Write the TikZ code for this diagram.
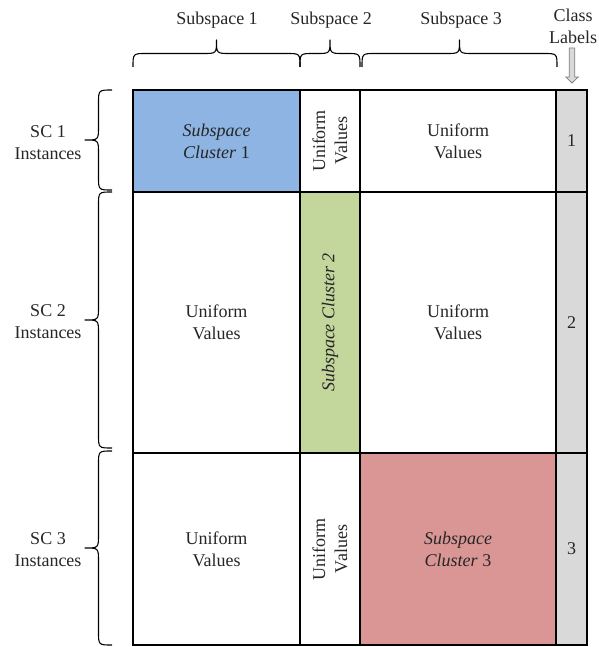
\documentclass[tikz,border=0pt]{standalone}
\usepackage{fontspec}
\setmainfont{Liberation Serif}
\definecolor{scblue}{RGB}{141,180,226}
\definecolor{scgreen}{RGB}{195,214,155}
\definecolor{scred}{RGB}{217,150,148}
\definecolor{labgray}{RGB}{217,217,217}
\tikzset{
  cell/.style={rectangle, draw, line width=1.5pt, inner sep=0pt, outer sep=0pt, align=center},
  bracestyle/.style={line width=1.1pt, line join=round}
}
% top brace: x1, x2, y of the ends
\newcommand{\topbrace}[3]{%
  \draw[bracestyle] (#1,#3) .. controls (#1,#3-13.5) .. (#1+13.5,#3-13.5)
    -- ({(#1+#2)/2-13.5},#3-13.5) .. controls ({(#1+#2)/2},#3-13.5) .. ({(#1+#2)/2},#3-27)
    .. controls ({(#1+#2)/2},#3-13.5) .. ({(#1+#2)/2+13.5},#3-13.5)
    -- (#2-13.5,#3-13.5) .. controls (#2,#3-13.5) .. (#2,#3);}
% side brace: y1, y2, x of the ends
\newcommand{\sidebrace}[3]{%
  \draw[bracestyle] (#3,#1) .. controls (#3-13.5,#1) .. (#3-13.5,#1+13.5)
    -- (#3-13.5,{(#1+#2)/2-13.5}) .. controls (#3-13.5,{(#1+#2)/2}) .. (#3-27,{(#1+#2)/2})
    .. controls (#3-13.5,{(#1+#2)/2}) .. (#3-13.5,{(#1+#2)/2+13.5})
    -- (#3-13.5,#2-13.5) .. controls (#3-13.5,#2) .. (#3,#2);}

\begin{document}
\begin{tikzpicture}[x=1pt, y=-1pt, every node/.style={font=\fontsize{18}{22}\selectfont, text=black!85}]
\useasboundingbox (0,0) rectangle (598,647);

% row 1
\draw (216.5,141) node(sc1) [cell, fill=scblue, minimum width=167pt, minimum height=102pt] {\textit{Subspace}\\\textit{Cluster} 1};
\draw (330,141) node(u12) [cell, rotate=90, minimum width=102pt, minimum height=60pt] {Uniform\\Values};
\draw (458,141) node(u13) [cell, minimum width=196pt, minimum height=102pt] {Uniform\\Values};
\draw (571.5,141) node(lab1) [cell, fill=labgray, minimum width=31pt, minimum height=102pt] {1};

% row 2
\draw (216.5,322.5) node(u21) [cell, minimum width=167pt, minimum height=261pt] {Uniform\\Values};
\draw (330,322.5) node(sc2) [cell, fill=scgreen, rotate=90, minimum width=261pt, minimum height=60pt] {\textit{Subspace Cluster 2}};
\draw (458,322.5) node(u23) [cell, minimum width=196pt, minimum height=261pt] {Uniform\\Values};
\draw (571.5,322.5) node(lab2) [cell, fill=labgray, minimum width=31pt, minimum height=261pt] {2};

% row 3
\draw (216.5,549) node(u31) [cell, minimum width=167pt, minimum height=192pt] {Uniform\\Values};
\draw (330,549) node(u32) [cell, rotate=90, minimum width=192pt, minimum height=60pt] {Uniform\\Values};
\draw (458,549) node(sc3) [cell, fill=scred, minimum width=196pt, minimum height=192pt] {\textit{Subspace}\\\textit{Cluster} 3};
\draw (571.5,549) node(lab3) [cell, fill=labgray, minimum width=31pt, minimum height=192pt] {3};

% column headings
\topbrace{133}{300}{67}
\topbrace{300}{360}{67}
\topbrace{362}{557}{67}
\draw (217,20) node(ss1) {Subspace 1};
\draw (331,20) node(ss2) {Subspace 2};
\draw (461,20) node(ss3) {Subspace 3};
\draw (573,26) node(classlab) [align=center] {Class\\Labels};
\coordinate (arrtop) at (572,48);
\draw[gray, fill=labgray, line width=0.8pt] (arrtop) ++(-2.8,0) -- ++(0,29) -- ++(-3.4,0) -- (572,83) -- (578.2,77) -- ++(-3.4,0) -- ++(0,-29) -- cycle;

% row headings
\sidebrace{90}{190}{112}
\sidebrace{192}{448}{112}
\sidebrace{451}{645}{112}
\draw (48,143) node(inst1) [align=center] {SC 1\\Instances};
\draw (48,322) node(inst2) [align=center] {SC 2\\Instances};
\draw (48,550) node(inst3) [align=center] {SC 3\\Instances};
\end{tikzpicture}
\end{document}
